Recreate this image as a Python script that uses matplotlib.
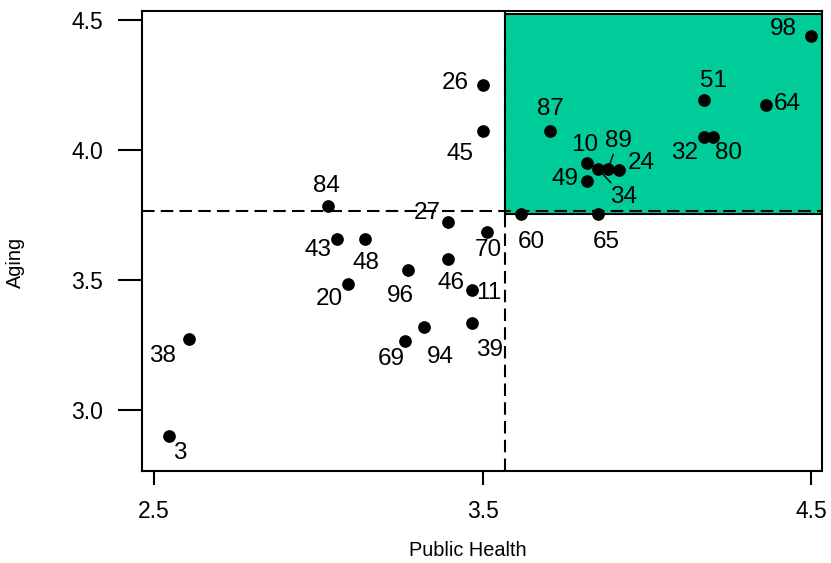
"""
Quadrant scatter: Public Health vs Aging, labelled by id,
upper-right quadrant shaded.
"""

import matplotlib
matplotlib.use("Agg")
import matplotlib.pyplot as plt
from matplotlib.patches import Rectangle

plt.rcParams["font.family"] = ["Liberation Sans", "DejaVu Sans"]

# data
ids = ["98", "51", "64", "32", "80", "87", "10", "34", "89", "24", "49",
       "60", "65", "26", "45", "84", "27", "70", "43", "48", "46", "96",
       "20", "11", "39", "94", "69", "38", "3"]
public_health = [4.498, 4.173, 4.362, 4.173, 4.202, 3.705, 3.819, 3.850,
                 3.882, 3.916, 3.819, 3.618, 3.850, 3.501, 3.501, 3.030,
                 3.395, 3.512, 3.057, 3.143, 3.395, 3.273, 3.089, 3.469,
                 3.469, 3.321, 3.263, 2.605, 2.546]
aging = [4.438, 4.191, 4.173, 4.050, 4.050, 4.072, 3.948, 3.928, 3.928,
         3.922, 3.880, 3.755, 3.755, 4.249, 4.073, 3.783, 3.721, 3.685,
         3.659, 3.659, 3.582, 3.537, 3.486, 3.460, 3.336, 3.319, 3.265,
         3.272, 2.899]

cut_x = 3.568   # mean public health
cut_y = 3.764   # mean aging

# label placement (pixel offsets from the point)
offsets = {
    "98": (-27, 7), "51": (10, 19), "64": (21, 1), "32": (-19, -16),
    "80": (15, -16), "87": (0, 22), "10": (-3, 18), "34": (26, -28),
    "89": (10, 28), "24": (22, 7), "49": (-22, 2), "60": (10, -28),
    "65": (9, -28), "26": (-28, 2), "45": (-23, -23), "84": (-2, 20),
    "27": (-21, 9), "70": (2, -18), "43": (-19, -11), "48": (1, -24),
    "46": (3, -24), "96": (-8, -26), "20": (-18, -15), "11": (16, -3),
    "39": (17, -27), "94": (17, -30), "69": (-14, -18), "38": (-26, -17),
    "3": (11, -17),
}
leaders = {"34", "89"}

fig = plt.figure(figsize=(8.31, 5.63), dpi=100)
ax = fig.add_axes([0.1705, 0.1634, 0.8183, 0.8176])
ax.set_xlim(2.462, 4.532)
ax.set_ylim(2.765, 4.535)

ax.add_patch(Rectangle((cut_x, 3.755), 4.6 - cut_x, 4.523 - 3.755,
                       facecolor="#00CC99", edgecolor="black", lw=1.5, zorder=1))
ax.axvline(cut_x, color="black", lw=1.5, ls=(0, (6, 3)), zorder=2)
ax.axhline(cut_y, color="black", lw=1.5, ls=(0, (6, 3)), zorder=2)

ax.scatter(public_health, aging, s=66, color="black", zorder=3)

for name, x, y in zip(ids, public_health, aging):
    dx, dy = offsets[name]
    if name in leaders:
        ax.annotate(name, (x, y), xytext=(dx, dy), textcoords="offset pixels",
                    ha="center", va="center", fontsize=17.5, zorder=4,
                    arrowprops=dict(arrowstyle="-", lw=1, color="black",
                                    shrinkA=0, shrinkB=4))
    else:
        ax.annotate(name, (x, y), xytext=(dx, dy), textcoords="offset pixels",
                    ha="center", va="center", fontsize=17.5, zorder=4)

ax.set_xticks([2.5, 3.5, 4.5])
ax.set_xticklabels(["2.5", "3.5", "4.5"])
ax.set_yticks([3.0, 3.5, 4.0, 4.5])
ax.set_yticklabels(["3.0", "3.5", "4.0", "4.5"])
ax.tick_params(axis="x", length=10, width=1.5, pad=11, labelsize=16.5)
ax.tick_params(axis="y", length=17, width=1.5, pad=11, labelsize=16.5)
for sp in ax.spines.values():
    sp.set_linewidth(1.5)

fig.text(468 / 831, 1 - 551 / 563, "Public Health", ha="center", va="center",
         fontsize=14.3)
fig.text(15 / 831, 1 - 262 / 563, "Aging", ha="center", va="center",
         rotation=90, fontsize=14.3)

fig.savefig("out.png", dpi=100)
